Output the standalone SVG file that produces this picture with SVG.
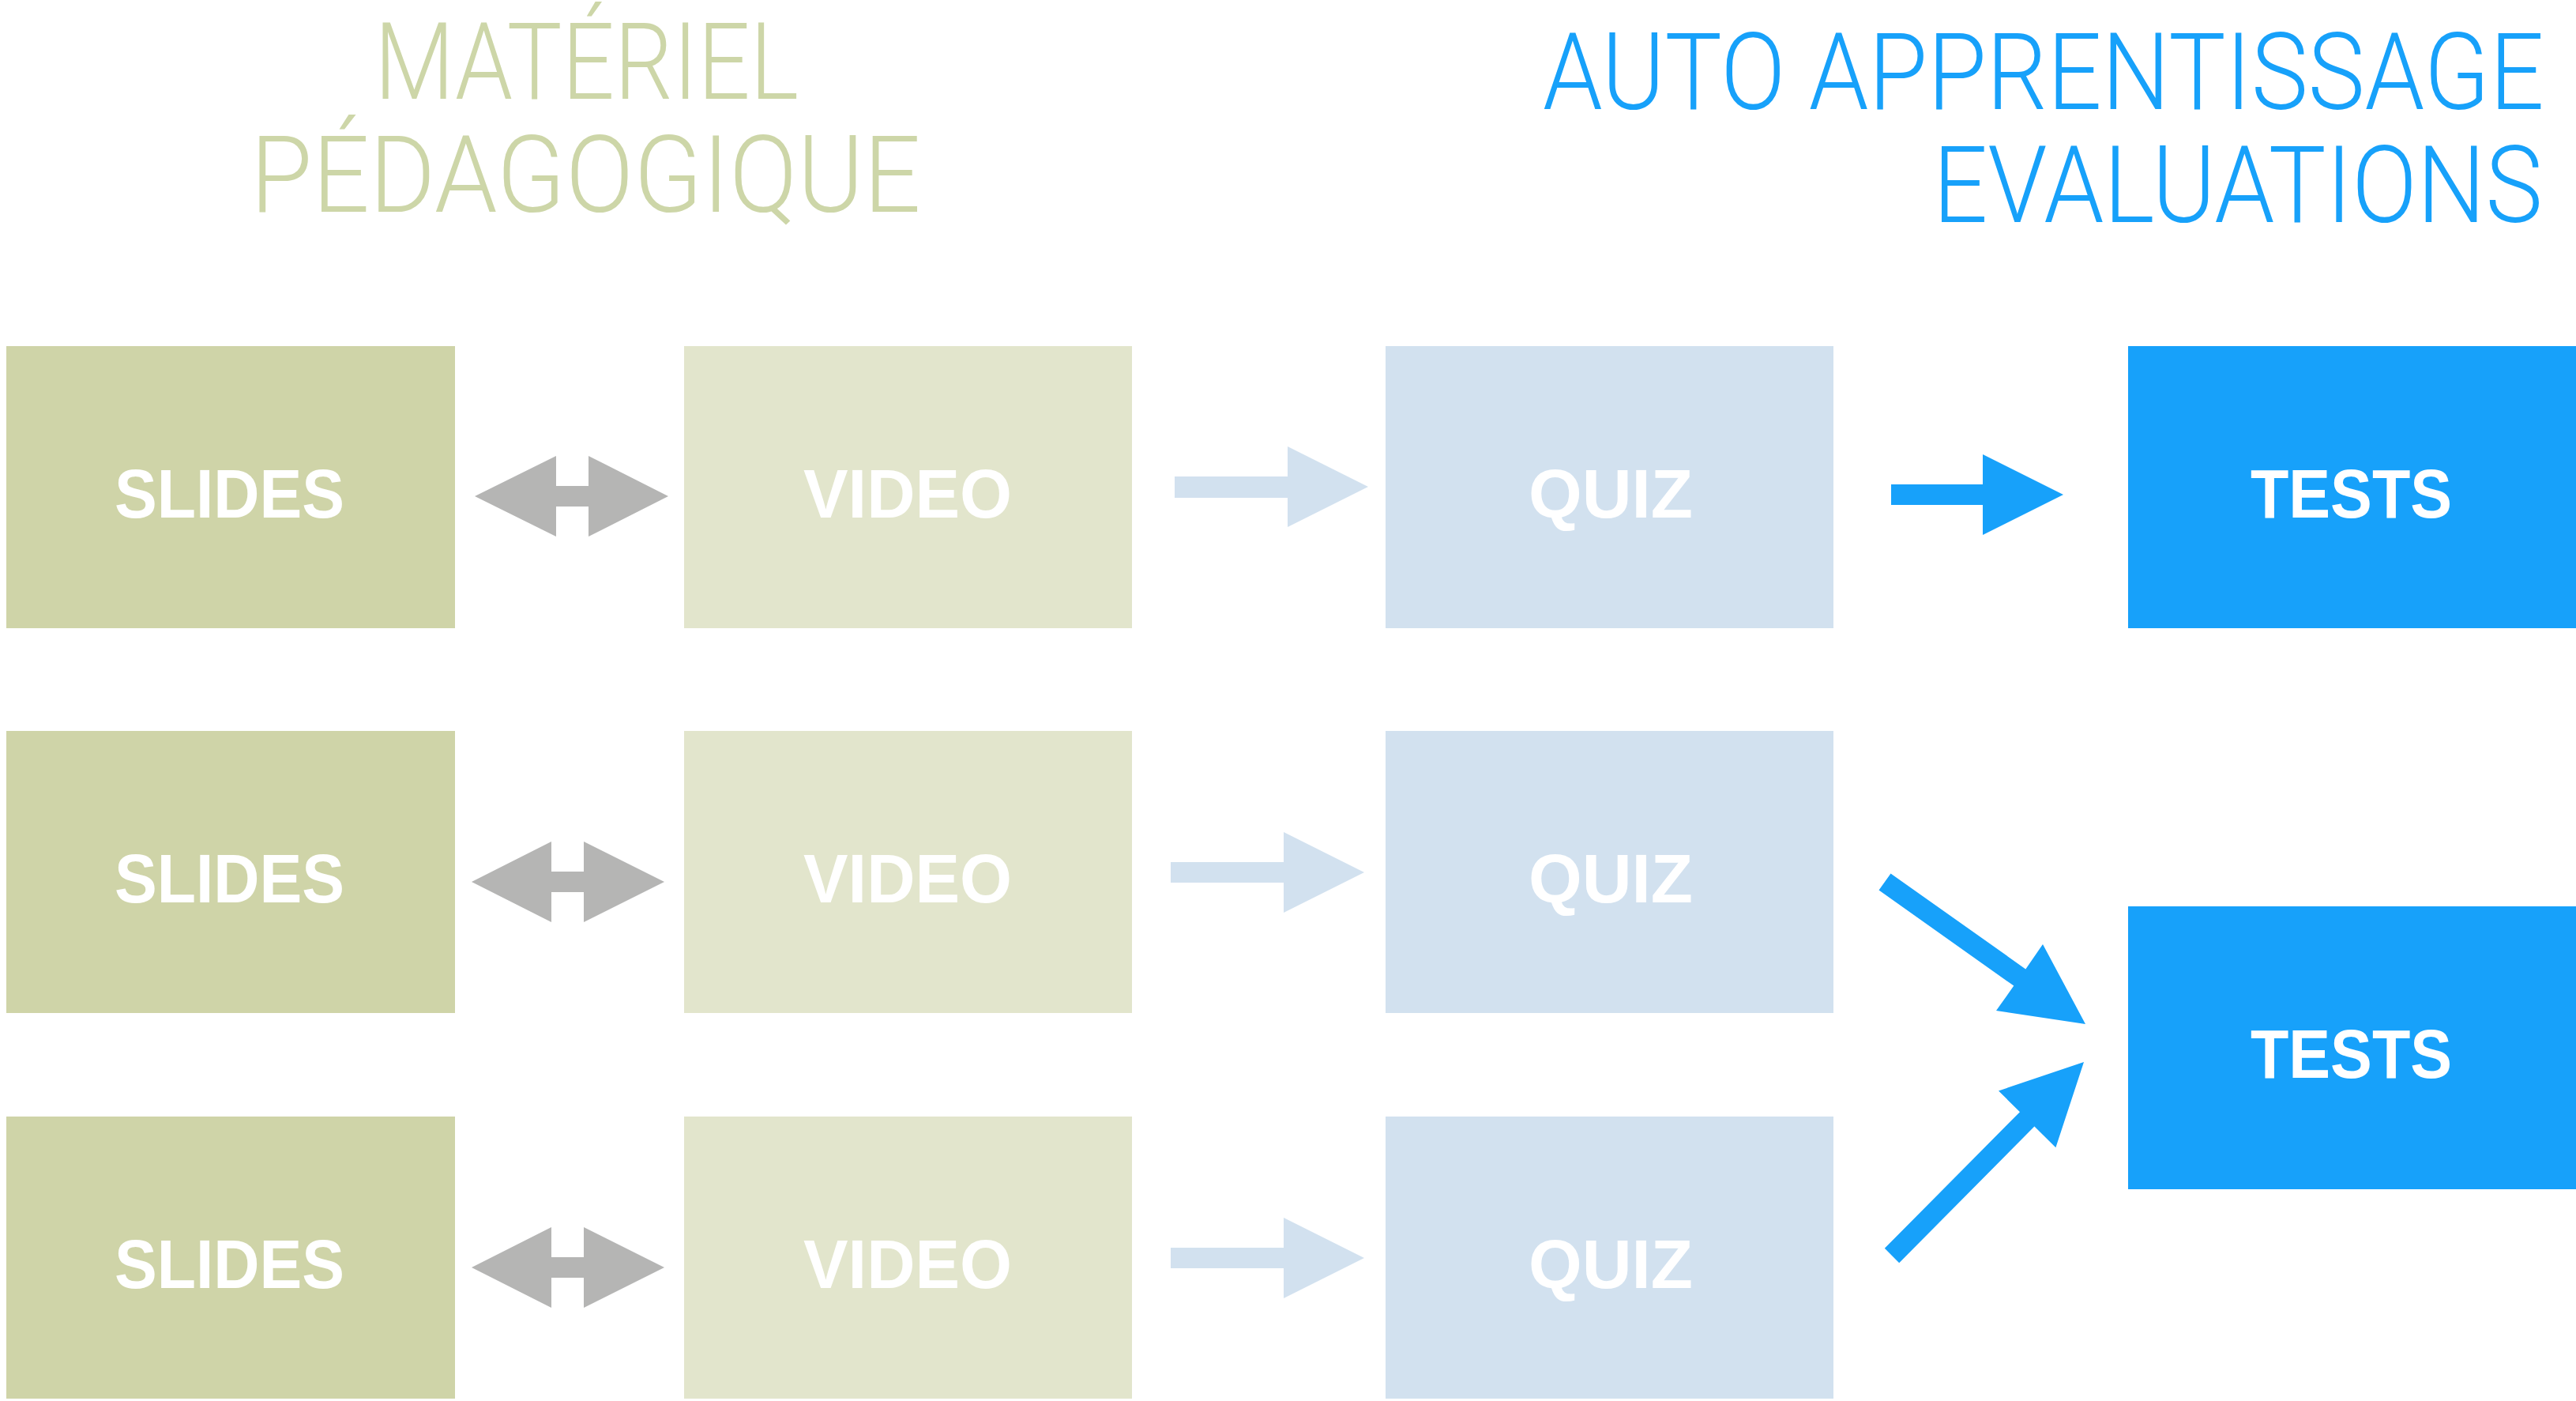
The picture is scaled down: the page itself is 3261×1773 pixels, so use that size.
<svg xmlns="http://www.w3.org/2000/svg" width="3261" height="1773" viewBox="0 0 3261 1773">
<style>
.slides{fill:#CFD4A8}
.video{fill:#E2E5CC}
.quiz{fill:#D2E1EF}
.tests{fill:#17A1FA}
.lbl{font-family:"Liberation Sans",Arial,sans-serif;font-weight:bold;font-size:88px;fill:#FFFFFF}
.title{font-family:Roboto,"Liberation Sans",sans-serif;font-weight:300;font-size:135px}
.olive{fill:#CDD6A8}
.blue{fill:#17A1FA}
.gray{fill:#B5B5B4}
.lblue{fill:#D2E1EF}
.dblue{fill:#17A1FA}
</style>
<rect width="3261" height="1773" fill="#FFFFFF"/>
<g id="titles">
<text class="title olive" transform="translate(474,125) scale(0.85,1)" x="0" y="0" textLength="632" lengthAdjust="spacingAndGlyphs">MATÉRIEL</text>
<text class="title olive" transform="translate(317,268) scale(0.9,1)" x="0" y="0" textLength="943" lengthAdjust="spacingAndGlyphs">PÉDAGOGIQUE</text>
<text class="title blue" transform="translate(1953,138) scale(0.87,1)" x="0" y="0" textLength="1457" lengthAdjust="spacingAndGlyphs">AUTO APPRENTISSAGE</text>
<text class="title blue" transform="translate(2447,281) scale(0.87,1)" x="0" y="0" textLength="887" lengthAdjust="spacingAndGlyphs">EVALUATIONS</text>
</g>
<g id="slides1"><rect class="slides" x="8" y="438" width="568" height="357"/><text class="lbl" x="145" y="655" textLength="291" lengthAdjust="spacingAndGlyphs">SLIDES</text></g>
<g id="video1"><rect class="video" x="866" y="438" width="567" height="357"/><text class="lbl" x="1017" y="655" textLength="264" lengthAdjust="spacingAndGlyphs">VIDEO</text></g>
<g id="quiz1"><rect class="quiz" x="1754" y="438" width="567" height="357"/><text class="lbl" x="1935" y="655" textLength="208" lengthAdjust="spacingAndGlyphs">QUIZ</text></g>
<g id="tests1"><rect class="tests" x="2694" y="438" width="567" height="357"/><text class="lbl" x="2849" y="655" textLength="255" lengthAdjust="spacingAndGlyphs">TESTS</text></g>
<g id="slides2"><rect class="slides" x="8" y="925" width="568" height="357"/><text class="lbl" x="145" y="1142" textLength="291" lengthAdjust="spacingAndGlyphs">SLIDES</text></g>
<g id="video2"><rect class="video" x="866" y="925" width="567" height="357"/><text class="lbl" x="1017" y="1142" textLength="264" lengthAdjust="spacingAndGlyphs">VIDEO</text></g>
<g id="quiz2"><rect class="quiz" x="1754" y="925" width="567" height="357"/><text class="lbl" x="1935" y="1142" textLength="208" lengthAdjust="spacingAndGlyphs">QUIZ</text></g>
<g id="slides3"><rect class="slides" x="8" y="1413" width="568" height="357"/><text class="lbl" x="145" y="1630" textLength="291" lengthAdjust="spacingAndGlyphs">SLIDES</text></g>
<g id="video3"><rect class="video" x="866" y="1413" width="567" height="357"/><text class="lbl" x="1017" y="1630" textLength="264" lengthAdjust="spacingAndGlyphs">VIDEO</text></g>
<g id="quiz3"><rect class="quiz" x="1754" y="1413" width="567" height="357"/><text class="lbl" x="1935" y="1630" textLength="208" lengthAdjust="spacingAndGlyphs">QUIZ</text></g>
<g id="tests2"><rect class="tests" x="2694" y="1147" width="567" height="358"/><text class="lbl" x="2849" y="1364" textLength="255" lengthAdjust="spacingAndGlyphs">TESTS</text></g>
<g id="connectors">
<polygon class="gray" points="601,628 704,577 704,615 745,615 745,577 846,628 745,679 745,641 704,641 704,679"/>
<polygon class="gray" points="597,1116 698,1065 698,1103 739,1103 739,1065 841,1116 739,1167 739,1129 698,1129 698,1167"/>
<polygon class="gray" points="597,1604 698,1553 698,1591 739,1591 739,1553 841,1604 739,1655 739,1617 698,1617 698,1655"/>
<polygon class="lblue" points="1487,603 1630,603 1630,565 1732,616 1630,667 1630,630 1487,630"/>
<polygon class="lblue" points="1482,1091 1625,1091 1625,1053 1727,1104 1625,1155 1625,1117 1482,1117"/>
<polygon class="lblue" points="1482,1579 1625,1579 1625,1541 1727,1592 1625,1643 1625,1605 1482,1605"/>
<polygon class="dblue" points="2394,613 2510,613 2510,575 2612,626 2510,677 2510,639 2394,639"/>
<polygon class="dblue" points="2393.5,1105.4 2564.3,1226.4 2586,1195 2640,1296 2527,1279 2549.3,1247.6 2378.5,1126.6"/>
<polygon class="dblue" points="2404.2,1598.2 2575.4,1425.6 2602.4,1452.3 2638,1344 2530,1380.5 2557,1407.2 2385.8,1579.8"/>
</g>
</svg>
